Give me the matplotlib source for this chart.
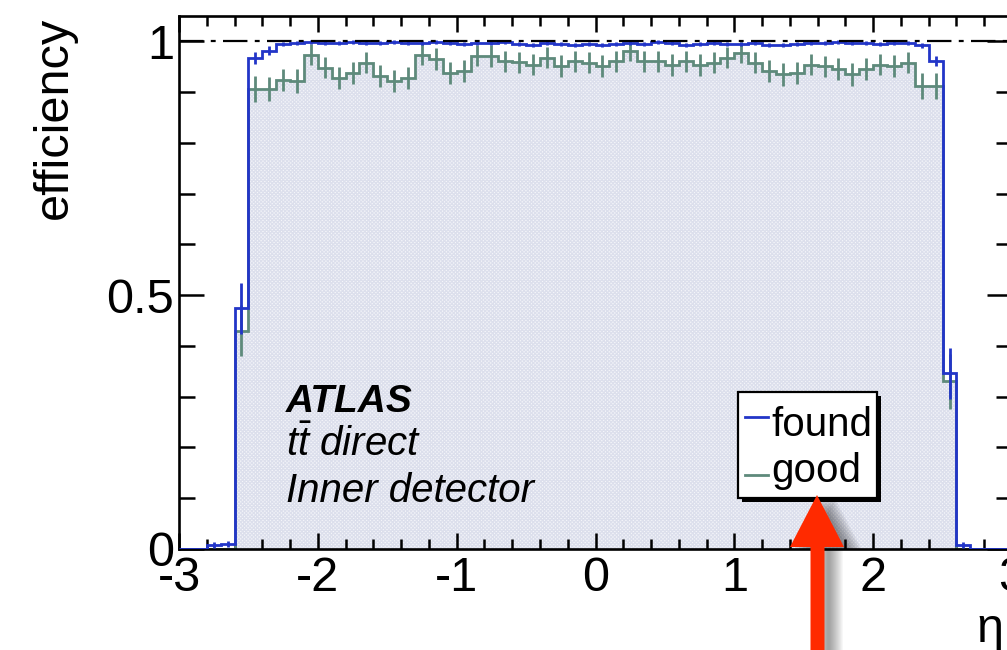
import numpy as np
import matplotlib
matplotlib.use("Agg")
import matplotlib.pyplot as plt
from matplotlib.patches import Rectangle, Polygon
from matplotlib.lines import Line2D
from matplotlib.ticker import MultipleLocator

plt.rcParams['font.family'] = ['Liberation Sans', 'DejaVu Sans']
plt.rcParams['axes.unicode_minus'] = False
plt.rcParams['mathtext.fontset'] = 'custom'
plt.rcParams['mathtext.it'] = 'Liberation Sans:italic'
plt.rcParams['mathtext.rm'] = 'Liberation Sans'
plt.rcParams['hatch.linewidth'] = 0.9

# ---------------- data ----------------
eta_min, eta_max, n_bins = -3.0, 3.0, 60

# efficiency of "found" tracks per eta bin (0.1 wide, -3 .. 3)
found = [0.0, 0.0, 0.008, 0.010,
         0.474, 0.968, 0.982, 0.995, 0.997, 0.998, 0.996, 0.997, 0.998, 0.997,
         0.996, 0.998, 0.997, 0.996, 0.998, 0.997, 0.995, 0.997, 0.996, 0.998,
         0.994, 0.993, 0.997, 0.995, 0.993, 0.994, 0.993, 0.994, 0.996, 0.995,
         0.998, 0.997, 0.993, 0.994, 0.997, 0.994, 0.995, 0.997, 0.993, 0.993,
         0.994, 0.996, 0.997, 0.998, 0.996, 0.997, 0.995, 0.997, 0.996, 0.992,
         0.962, 0.346,
         0.008, 0.0, 0.0, 0.0]
found_err = [0.0, 0.0, 0.006, 0.006,
             0.05, 0.012, 0.008, 0.004, 0.004, 0.004, 0.004, 0.004, 0.004, 0.004,
             0.004, 0.004, 0.004, 0.004, 0.004, 0.004, 0.004, 0.004, 0.004, 0.004,
             0.004, 0.004, 0.004, 0.004, 0.004, 0.004, 0.004, 0.004, 0.004, 0.004,
             0.004, 0.004, 0.004, 0.004, 0.004, 0.004, 0.004, 0.004, 0.004, 0.004,
             0.004, 0.004, 0.004, 0.004, 0.004, 0.004, 0.004, 0.004, 0.004, 0.005,
             0.010, 0.05,
             0.006, 0.0, 0.0, 0.0]

# efficiency of "good" tracks
good = [0.0, 0.0, 0.0, 0.0,
        0.430, 0.906, 0.906, 0.924, 0.922, 0.974, 0.948, 0.928, 0.938, 0.958,
        0.932, 0.922, 0.928, 0.974, 0.965, 0.938, 0.941, 0.972, 0.971, 0.961,
        0.959, 0.954, 0.968, 0.951, 0.961, 0.958, 0.951, 0.961, 0.981, 0.961,
        0.961, 0.954, 0.961, 0.954, 0.958, 0.968, 0.978, 0.958, 0.941, 0.935,
        0.938, 0.954, 0.951, 0.945, 0.935, 0.945, 0.954, 0.951, 0.958, 0.912,
        0.912, 0.330,
        0.0, 0.0, 0.0, 0.0]
good_err = [0.0, 0.0, 0.0, 0.0,
            0.05, 0.025, 0.024, 0.022, 0.023, 0.020, 0.021, 0.022, 0.022, 0.021,
            0.022, 0.022, 0.022, 0.020, 0.021, 0.022, 0.022, 0.021, 0.021, 0.021,
            0.021, 0.021, 0.021, 0.022, 0.021, 0.021, 0.022, 0.021, 0.020, 0.021,
            0.021, 0.022, 0.021, 0.022, 0.021, 0.021, 0.020, 0.021, 0.022, 0.022,
            0.022, 0.021, 0.021, 0.022, 0.022, 0.022, 0.021, 0.022, 0.021, 0.025,
            0.025, 0.054,
            0.0, 0.0, 0.0, 0.0]

x_ticks = [-3, -2, -1, 0, 1, 2, 3]
y_ticks = [0, 0.5, 1]
y_tick_labels = ['0', '0.5', '1']
legend_labels = ['found', 'good']
text_lines = ['ATLAS', r'$t\bar{t}$ direct', 'Inner detector']

BLUE = '#2235c8'
GREEN = '#5e8a7b'
LW = 2.0

# ---------------- figure ----------------
W, H = 1007, 650
fig = plt.figure(figsize=(W / 100, H / 100), dpi=100)

def fx(x):
    return x / W

def fy(y):
    return 1 - y / H

ax = fig.add_axes([fx(179), fy(549), (1012 - 179) / W, (549 - 16) / H])

edges = np.linspace(eta_min, eta_max, n_bins + 1)
centers = 0.5 * (edges[:-1] + edges[1:])
found_a = np.array(found)
good_a = np.array(good)
found_e = np.array(found_err)
good_e = np.array(good_err)

# light hatched fill under "good"
ax.stairs(good_a, edges, baseline=0, fill=True, facecolor='#f5f6fa',
          edgecolor='#dcdfec', hatch='x' * 9, linewidth=0, zorder=1)
ax.stairs(good_a, edges, baseline=0, color=GREEN, linewidth=LW, zorder=2)
mg = good_e > 0
ax.vlines(centers[mg], (good_a - good_e)[mg], (good_a + good_e)[mg],
          color=GREEN, linewidth=LW, zorder=2)

ax.stairs(found_a, edges, baseline=0, color=BLUE, linewidth=LW, zorder=3)
mf = found_e > 0
ax.vlines(centers[mf], (found_a - found_e)[mf], (found_a + found_e)[mf],
          color=BLUE, linewidth=LW, zorder=3)

ax.axhline(1.0, color='black', linewidth=1.6, linestyle=(0, (11, 3.3, 2.2, 3.3)),
           zorder=4)

ax.set_xlim(eta_min, eta_max)
ax.set_ylim(0, 1.05)
ax.set_xticks(x_ticks)
ax.set_yticks(y_ticks, labels=y_tick_labels)
ax.xaxis.set_minor_locator(MultipleLocator(0.2))
ax.yaxis.set_minor_locator(MultipleLocator(0.1))
ax.tick_params(axis='x', which='major', direction='in', length=11.5, width=1.8,
               top=True, bottom=True, pad=5, labelsize=35)
ax.tick_params(axis='x', which='minor', direction='in', length=7, width=1.8,
               top=True, bottom=True)
ax.tick_params(axis='y', which='major', direction='in', length=18, width=1.8,
               left=True, right=True, pad=3.5, labelsize=35)
ax.tick_params(axis='y', which='minor', direction='in', length=11.5, width=1.8,
               left=True, right=True)
for s in ax.spines.values():
    s.set_linewidth(1.9)

# axis titles (ROOT style)
fig.text(fx(54), fy(17), 'efficiency', rotation=90, ha='center', va='top',
         fontsize=35)
fig.text(fx(1003), fy(642), 'η', ha='right', va='baseline', fontsize=35)

# labels inside the plot
fig.text(fx(286), fy(412), text_lines[0], weight='bold', style='italic',
         fontsize=28, va='baseline')
fig.text(fx(286), fy(456), text_lines[1], style='italic', fontsize=29,
         va='baseline')
fig.text(fx(286), fy(502), text_lines[2], style='italic', fontsize=29,
         va='baseline')

# legend box with shadow
bx0, by0, bx1, by1 = 738, 392, 877, 498
fig.add_artist(Rectangle((fx(bx0 + 4), fy(by1 + 4)), (bx1 - bx0) / W,
                         (by1 - by0) / H, transform=fig.transFigure,
                         facecolor='black', edgecolor='none', zorder=5))
fig.add_artist(Rectangle((fx(bx0), fy(by1)), (bx1 - bx0) / W, (by1 - by0) / H,
                         transform=fig.transFigure, facecolor='white',
                         edgecolor='black', linewidth=1.6, zorder=6))
for lab, col, yl, yb in [(legend_labels[0], BLUE, 417, 436),
                         (legend_labels[1], GREEN, 475, 482)]:
    fig.add_artist(Line2D([fx(745), fx(768)], [fy(yl), fy(yl)], color=col,
                          linewidth=2.0, transform=fig.transFigure, zorder=7))
    fig.text(fx(771), fy(yb), lab, fontsize=29, va='baseline', zorder=7)

# red arrow with soft shadow
arrow_pts = [(810.5, 660), (810.5, 547), (790, 547), (817, 495), (844, 547),
             (824.5, 547), (824.5, 660)]
for dx in range(4, 20, 2):
    fig.add_artist(Polygon([(fx(x + dx), fy(y + 3)) for x, y in arrow_pts],
                           closed=True, transform=fig.transFigure,
                           facecolor='black', edgecolor='none', alpha=0.06,
                           zorder=8))
fig.add_artist(Polygon([(fx(x), fy(y)) for x, y in arrow_pts], closed=True,
                       transform=fig.transFigure, facecolor='#ff2a00',
                       edgecolor='none', zorder=9))

fig.savefig('out.png', dpi=100)
